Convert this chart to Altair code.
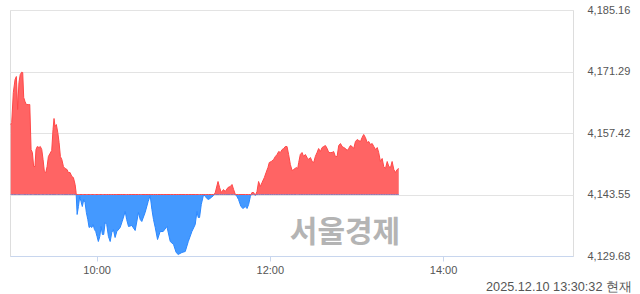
import altair as alt
import pandas as pd
import numpy as np

# minutes after 09:00
minutes = [0.5, 1.2, 2.3, 3.5, 4.4, 5.3, 6.2, 7.1, 8.1, 8.8, 9.5, 10.4, 11.3, 12.7, 13.7,
           14.6, 15.5, 16.4, 17.3, 18.0, 18.9, 20.1, 21.0, 22.0, 22.9, 23.8, 24.8, 25.7,
           26.6, 27.7, 28.9, 29.8, 30.5, 31.2, 32.1, 33.1, 34.0, 34.9, 35.9, 37.0, 38.1,
           39.5, 40.4, 41.6, 42.8, 43.9, 45.1, 45.8, 46.5, 47.4, 48.3, 49.2, 50.1, 51.1,
           52.0, 52.9, 53.9, 54.8, 55.7, 56.7, 57.6, 58.5, 59.4, 60.3, 61.2, 62.2, 63.1,
           64.0, 64.9, 65.9, 67.0, 68.2, 69.4, 70.5, 71.6, 72.8, 74.0, 76.3, 77.7, 79.8,
           80.8, 82.1, 84.4, 86.7, 89.0, 90.2, 91.3, 93.6, 95.7, 97.1, 98.3, 99.4, 100.6,
           102.2, 104.0, 106.1, 108.7, 111.0, 113.3, 115.1, 116.5, 119.1, 121.4, 123.5,
           126.0, 128.3, 129.5, 130.4, 131.3, 132.5, 134.1, 135.3, 136.4, 137.5, 139.4,
           141.0, 142.2, 144.1, 145.2, 146.3, 147.9, 149.1, 151.0, 152.6, 153.8, 154.9,
           156.1, 157.2, 158.3, 160.0, 161.4, 163.0, 164.2, 165.3, 166.5, 167.6, 168.8,
           169.9, 171.1, 172.2, 173.4, 174.6, 176.2, 177.4, 178.7, 179.6, 181.0, 182.6,
           183.8, 185.0, 186.1, 187.3, 188.5, 189.6, 190.7, 191.9, 193.0, 194.2, 195.4,
           196.5, 198.4, 199.3, 200.0, 201.1, 202.3, 203.4, 204.6, 205.8, 206.9, 208.1,
           209.3, 210.4, 211.5, 212.7, 213.8, 215.0, 216.2, 217.3, 218.5, 219.7, 220.8,
           222.0, 223.1, 224.2, 225.4, 226.6, 227.7, 228.9, 230.1, 231.2, 232.4, 233.6,
           234.6, 235.8, 237.0, 238.1, 239.3, 240.5, 241.6, 242.8, 243.9, 245.0, 246.2,
           247.4, 248.5, 249.7, 250.9, 252.0, 253.2, 254.4, 255.4, 256.6, 257.8, 258.9,
           260.1, 261.3, 262.4, 263.6, 264.7, 265.9, 267.0, 268.2, 269.3]

values = [4159.33, 4159.78, 4166.55, 4169.48, 4170.16, 4162.72, 4168.80, 4170.61, 4171.13,
          4171.06, 4165.42, 4164.52, 4163.84, 4163.84, 4163.84, 4153.69, 4153.02, 4149.86,
          4149.86, 4153.69, 4154.37, 4154.14, 4154.37, 4153.69, 4151.44, 4148.74, 4148.51,
          4149.86, 4152.12, 4152.79, 4153.47, 4158.20, 4160.69, 4158.88, 4159.33, 4157.53,
          4155.27, 4152.12, 4151.44, 4149.86, 4149.41, 4149.19, 4148.51, 4148.51, 4147.61,
          4147.38, 4145.80, 4144.00, 4139.04, 4140.84, 4143.10, 4141.97, 4140.84, 4142.42,
          4141.75, 4139.49, 4137.91, 4136.11, 4136.33, 4136.11, 4136.78, 4135.65, 4135.20,
          4134.08, 4132.95, 4134.08, 4136.33, 4134.53, 4134.53, 4137.23, 4136.78, 4134.08,
          4132.95, 4134.98, 4135.65, 4133.85, 4135.20, 4136.11, 4137.46, 4139.72, 4137.91,
          4136.33, 4136.56, 4135.43, 4139.49, 4137.91, 4137.46, 4139.49, 4141.97, 4143.32,
          4140.17, 4137.91, 4136.11, 4133.40, 4135.20, 4135.20, 4136.33, 4132.95, 4132.27,
          4130.47, 4130.02, 4130.47, 4130.70, 4132.95, 4135.20, 4136.78, 4139.72, 4138.36,
          4138.36, 4141.30, 4143.55, 4143.10, 4142.65, 4142.42, 4142.87, 4143.32, 4144.00,
          4146.48, 4145.13, 4144.00, 4144.67, 4144.22, 4145.13, 4145.35, 4145.80, 4144.67,
          4143.55, 4143.10, 4142.42, 4140.84, 4140.39, 4140.84, 4140.39, 4141.30, 4143.10,
          4144.00, 4144.00, 4143.32, 4144.22, 4146.48, 4145.35, 4146.25, 4147.38, 4148.51,
          4149.64, 4150.76, 4150.99, 4151.44, 4152.12, 4152.57, 4153.24, 4153.02, 4153.69,
          4153.92, 4154.37, 4154.37, 4152.57, 4150.31, 4148.96, 4149.19, 4149.64, 4149.41,
          4150.76, 4152.57, 4153.02, 4152.12, 4152.57, 4151.89, 4151.44, 4151.89, 4150.99,
          4150.76, 4152.12, 4153.02, 4153.92, 4153.24, 4154.14, 4154.37, 4154.59, 4153.92,
          4153.02, 4153.02, 4153.02, 4153.24, 4152.12, 4152.12, 4154.59, 4155.04, 4154.37,
          4154.14, 4153.92, 4153.47, 4153.92, 4154.59, 4154.37, 4153.92, 4155.50, 4155.95,
          4155.72, 4155.50, 4156.40, 4157.08, 4156.40, 4155.27, 4155.50, 4154.82, 4155.04,
          4154.37, 4153.69, 4154.14, 4153.02, 4150.99, 4151.67, 4149.86, 4149.41, 4150.99,
          4149.86, 4149.64, 4150.99, 4149.19, 4148.51, 4149.19, 4149.41]

base = 4143.55
y_ticks = [4129.68, 4143.55, 4157.42, 4171.29, 4185.16]
x_tick_labels = ["10:00", "12:00", "14:00"]
stamp_text = "2025.12.10 13:30:32 현재"
watermark_text = "서울경제"

# insert baseline crossing points so the two colours meet cleanly
m = np.array(minutes, dtype=float)
v = np.array(values, dtype=float)
mm, vv = [m[0]], [v[0]]
for i in range(1, len(m)):
    a, b = v[i - 1] - base, v[i] - base
    if a * b < 0:
        t = a / (a - b)
        mm.append(m[i - 1] + t * (m[i] - m[i - 1]))
        vv.append(base)
    mm.append(m[i])
    vv.append(v[i])
mm = np.array(mm)
vv = np.array(vv)

start = pd.Timestamp("2025-12-10 09:00")
df = pd.DataFrame({
    "t": [(start + pd.Timedelta(minutes=float(x))).strftime("%Y-%m-%dT%H:%M:%S") for x in mm],
    "up": np.maximum(vv, base),
    "down": np.minimum(vv, base),
    "base": base,
})

tick_times = [f"2025-12-10T{s}:00" for s in x_tick_labels]
xdomain = ["2025-12-10T09:00:00", "2025-12-10T15:30:00"]

xenc = alt.X("t:T", scale=alt.Scale(domain=xdomain),
             axis=alt.Axis(values=tick_times, format="%H:%M", title=None, grid=False,
                           domainColor="#c8d6ee", tickColor="#c8d6ee", tickSize=5,
                           labelColor="#555555", labelFont="Liberation Sans", labelFontSize=11,
                           labelPadding=3))
yscale = alt.Scale(domain=[y_ticks[0], y_ticks[-1]], nice=False, zero=False)
yaxis = alt.Axis(values=y_ticks, orient="right", title=None, format=",.2f",
                 grid=True, gridColor="#e3e3e3", domain=False, ticks=False,
                 labelColor="#555555", labelFont="Liberation Sans", labelFontSize=11,
                 labelPadding=14, labelAlign="left", labelBaseline="middle")

down_area = alt.Chart(df).mark_area(color="#4499ff", opacity=1,
                                    line={"color": "#2b88ff", "strokeWidth": 1}).encode(
    x=xenc, y=alt.Y("down:Q", scale=yscale, axis=yaxis), y2="base:Q")
up_area = alt.Chart(df).mark_area(color="#ff6464", opacity=1,
                                  line={"color": "#ff4848", "strokeWidth": 1}).encode(
    x=alt.X("t:T"), y=alt.Y("up:Q"), y2="base:Q")

wm = alt.Chart(pd.DataFrame({"txt": [watermark_text]})).mark_text(
    font="Noto Sans CJK KR", fontWeight="bold", fontSize=30, color="#b4b4b4",
    align="center", baseline="middle").encode(
    text="txt:N", x=alt.value(335), y=alt.value(223))

stamp = alt.Chart(pd.DataFrame({"txt": [stamp_text]})).mark_text(
    font="Liberation Sans", fontSize=12.7, color="#555555",
    align="right", baseline="middle").encode(
    text="txt:N", x=alt.value(622), y=alt.value(277))

chart = alt.layer(wm, down_area, up_area, stamp).properties(
    width=563, height=246,
    padding={"left": 10, "top": 10, "right": 67, "bottom": 38},
    autosize=alt.AutoSizeParams(type="none"),
).configure_view(stroke=None).configure(background="white")

chart.save("out.html", embed_options={"renderer": "svg", "actions": False})
